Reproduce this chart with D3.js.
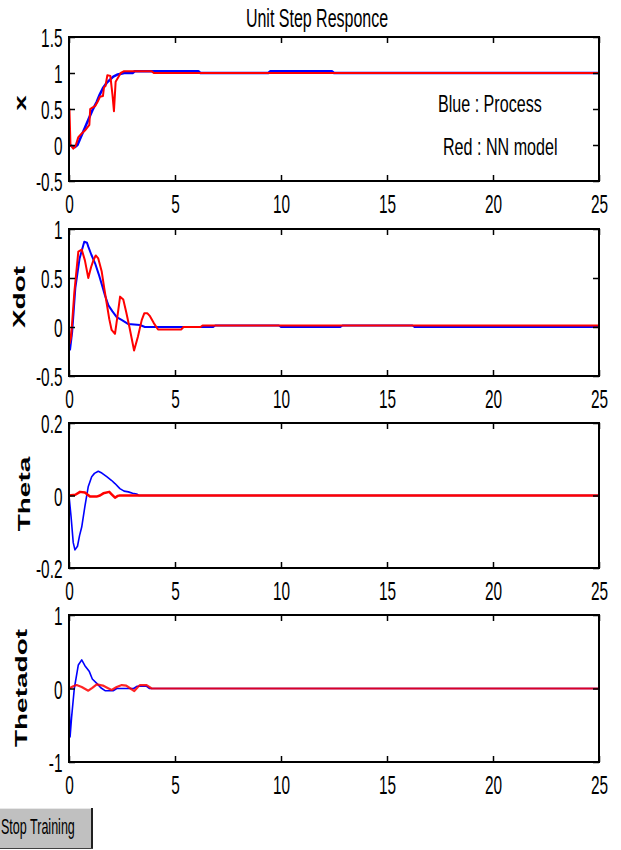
<!DOCTYPE html>
<html>
<head>
<meta charset="utf-8">
<script src="https://cdn.jsdelivr.net/npm/d3@7"></script>
<style>
  html, body { margin: 0; padding: 0; background: #fff; }
  svg { display: block; font-family: "Liberation Sans", Arial, sans-serif; }
</style>
</head>
<body>
<svg id="chart" width="621" height="850"></svg>
<script>
// ---- data: [time, value] samples of the unit step response ----
const xTicks = [0, 5, 10, 15, 20, 25];

const yTicksX = [-0.5, 0, 0.5, 1, 1.5];
const yTicksXdot = [-0.5, 0, 0.5, 1];
const yTicksTheta = [-0.2, 0, 0.2];
const yTicksThetadot = [-1, 0, 1];

const xProcess = [[0,0],[0.1,-0.01],[0.28,-0.03],[0.4,0.0],[0.6,0.14],[0.75,0.24],[0.91,0.35],[1.1,0.48],[1.31,0.6],[1.45,0.7],[1.62,0.8],[1.8,0.87],[2.09,0.95],[2.3,0.98],[2.6,1.0],[3.0,1.0],[3.1,1.025],[6.1,1.025],[6.2,1.0],[9.4,1.0],[9.5,1.025],[12.4,1.025],[12.5,1.0],[25,1.0]];
const xModel = [[0,0],[0.02,0.5],[0.07,0.0],[0.2,-0.05],[0.3,-0.02],[0.44,0.11],[0.6,0.16],[0.75,0.2],[0.96,0.28],[1.0,0.5],[1.1,0.52],[1.23,0.54],[1.35,0.6],[1.46,0.67],[1.6,0.68],[1.65,0.8],[1.72,0.82],[1.81,0.97],[1.95,0.96],[2.05,0.7],[2.12,0.47],[2.2,0.88],[2.44,1.0],[2.6,1.025],[3.9,1.025],[4.0,1.0],[25,1.0]];

const xdotProcess = [[0,0],[0.05,-0.23],[0.15,-0.05],[0.3,0.4],[0.5,0.7],[0.72,0.87],[0.85,0.86],[0.91,0.82],[1.05,0.74],[1.23,0.65],[1.4,0.54],[1.54,0.44],[1.7,0.32],[1.86,0.22],[2.05,0.16],[2.25,0.1],[2.5,0.07],[2.8,0.03],[3.35,0.02],[3.58,0.0],[6.8,0.0],[6.9,0.015],[9.9,0.015],[10.0,0.0],[12.8,0.0],[12.9,0.015],[16.2,0.015],[16.3,0.0],[25,0.0]];
const xdotModel = [[0,0],[0.03,-0.17],[0.1,-0.1],[0.25,0.35],[0.44,0.77],[0.6,0.79],[0.75,0.68],[0.91,0.5],[1.04,0.61],[1.15,0.68],[1.26,0.73],[1.38,0.7],[1.54,0.57],[1.66,0.4],[1.78,0.24],[1.9,0.08],[2.01,-0.03],[2.17,-0.07],[2.28,0.1],[2.41,0.31],[2.56,0.28],[2.7,0.15],[2.85,0.0],[3.07,-0.24],[3.25,-0.1],[3.43,0.07],[3.55,0.14],[3.7,0.14],[3.82,0.11],[4.0,0.04],[4.2,-0.025],[5.3,-0.025],[5.4,0.0],[6.2,0.0],[6.3,0.015],[25,0.015]];

const thetaProcess = [[0,0],[0.1,-0.06],[0.2,-0.13],[0.28,-0.15],[0.4,-0.14],[0.5,-0.11],[0.6,-0.087],[0.75,-0.03],[0.91,0.025],[1.07,0.052],[1.2,0.061],[1.38,0.067],[1.55,0.062],[1.78,0.052],[2.0,0.042],[2.17,0.033],[2.4,0.019],[2.6,0.012],[2.8,0.01],[3.0,0.006],[3.19,0.004],[3.3,0.0],[25,0]];
const thetaModel = [[0,0],[0.3,0.002],[0.52,0.01],[0.75,0.008],[0.99,-0.003],[1.3,-0.003],[1.46,0.0],[1.62,0.006],[1.9,0.01],[2.0,0.004],[2.17,-0.006],[2.3,-0.001],[2.4,0.0],[25,0]];

const thetadotProcess = [[0,0],[0.05,-0.66],[0.12,-0.4],[0.25,0.0],[0.44,0.32],[0.6,0.39],[0.75,0.31],[0.96,0.23],[1.1,0.13],[1.31,0.07],[1.5,0.01],[1.7,-0.03],[2.1,-0.03],[2.25,0.0],[3.05,0.0],[3.2,0.03],[3.66,0.03],[3.8,0.0],[25,0]];
const thetadotModel = [[0,0],[0.2,0.03],[0.36,0.047],[0.6,0.02],[0.91,-0.03],[1.1,0.01],[1.31,0.057],[1.6,0.04],[1.8,0.01],[2.01,-0.02],[2.25,0.02],[2.49,0.047],[2.7,0.04],[2.9,0.0],[3.08,-0.035],[3.25,0.02],[3.35,0.047],[3.66,0.047],[3.9,0.0],[25,0]];

const titleText = "Unit Step Responce";
const legendLines = ["Blue : Process", "Red : NN model"];
const buttonText = "Stop Training";

// ---- layout ----
const svg = d3.select("#chart");
const SX = 0.615;           // horizontal squeeze of all lettering
const left = 69, right = 599;
const x = d3.scaleLinear().domain([0, 25]).range([left, right]);

const panels = [
  { label: "x",        ticks: yTicksX,        top: 37,  bottom: 181, lab: [22, 103], blue: xProcess,        red: xModel,        bw: 2.5, rw: 2,   ro: 1 },
  { label: "Xdot",     ticks: yTicksXdot,     top: 229, bottom: 376, lab: [19, 297], blue: xdotProcess,     red: xdotModel,     bw: 2,   rw: 2,   ro: 1 },
  { label: "Theta",    ticks: yTicksTheta,    top: 423, bottom: 568, lab: [24, 494], blue: thetaProcess,    red: thetaModel,    bw: 1.6, rw: 2.5, ro: 1 },
  { label: "Thetadot", ticks: yTicksThetadot, top: 615, bottom: 762, lab: [21, 688], blue: thetadotProcess, red: thetadotModel, bw: 1.6, rw: 2.2, ro: 0.85 }
];

panels.forEach(p => {
  const y = d3.scaleLinear()
    .domain([d3.min(p.ticks), d3.max(p.ticks)])
    .range([p.bottom, p.top]);
  const g = svg.append("g");

  // series
  const line = d3.line().x(d => x(d[0])).y(d => y(d[1]));
  g.append("path").datum(p.blue)
    .attr("d", line).attr("fill", "none")
    .attr("stroke", "#0000ff").attr("stroke-width", p.bw)
    .attr("stroke-linejoin", "round");
  g.append("path").datum(p.red)
    .attr("d", line).attr("fill", "none")
    .attr("stroke", "#ff0000").attr("stroke-width", p.rw)
    .attr("stroke-opacity", p.ro)
    .attr("stroke-linejoin", "round");

  // inward ticks on all four sides
  const bottomAx = g.append("g").attr("transform", `translate(0,${p.bottom})`)
    .call(d3.axisBottom(x).tickValues(xTicks).tickSizeInner(-6).tickSizeOuter(0).tickFormat(d => String(d)));
  const topAx = g.append("g").attr("transform", `translate(0,${p.top})`)
    .call(d3.axisTop(x).tickValues(xTicks).tickSizeInner(-6).tickSizeOuter(0).tickFormat(""));
  const leftAx = g.append("g").attr("transform", `translate(${left},0)`)
    .call(d3.axisLeft(y).tickValues(p.ticks).tickSizeInner(-6).tickSizeOuter(0).tickFormat(d => String(d)));
  const rightAx = g.append("g").attr("transform", `translate(${right},0)`)
    .call(d3.axisRight(y).tickValues(p.ticks).tickSizeInner(-6).tickSizeOuter(0).tickFormat(""));

  [bottomAx, topAx, leftAx, rightAx].forEach(a => {
    a.select(".domain").remove();
    a.selectAll(".tick line").attr("stroke", "#000").attr("stroke-width", 1.5);
  });

  bottomAx.selectAll(".tick text")
    .attr("dy", null).attr("y", 0)
    .attr("transform", `translate(0,32) scale(${SX},1)`)
    .attr("font-size", 25).attr("fill", "#000")
    .attr("font-family", "Liberation Sans, Arial, sans-serif");
  leftAx.selectAll(".tick text")
    .attr("dy", null).attr("x", 0)
    .attr("transform", `translate(-6.5,9.5) scale(${SX},1)`)
    .attr("font-size", 25).attr("fill", "#000")
    .attr("font-family", "Liberation Sans, Arial, sans-serif");

  // axes box
  g.append("rect")
    .attr("x", left).attr("y", p.top)
    .attr("width", right - left).attr("height", p.bottom - p.top)
    .attr("fill", "none").attr("stroke", "#000").attr("stroke-width", 2);

  // y label
  const capOff = (p.label === "x" ? 0.519 : 0.716) * 28 * SX / 2;
  svg.append("text")
    .attr("transform", `translate(${p.lab[0] + capOff},${p.lab[1]}) scale(${SX},1) rotate(-90)`)
    .attr("text-anchor", "middle")
    .attr("font-size", 28).attr("font-weight", "bold")
    .text(p.label);
});

// title
svg.append("text")
  .attr("transform", `translate(317,26.5) scale(${SX},1)`)
  .attr("text-anchor", "middle").attr("font-size", 26)
  .text(titleText);

// legend notes inside the first panel
svg.selectAll("text.note").data(legendLines).enter().append("text")
  .attr("class", "note")
  .attr("transform", (d, i) => `translate(${[438, 443][i]},${[111.5, 155][i]}) scale(0.7,1)`)
  .attr("font-size", 23)
  .text(d => d);

// button
const btn = svg.append("g");
btn.append("rect").attr("x", -2).attr("y", 808).attr("width", 94).attr("height", 41)
  .attr("fill", "#c0c0c0");
btn.append("line").attr("x1", 0).attr("x2", 92).attr("y1", 808.5).attr("y2", 808.5)
  .attr("stroke", "#e8e8e8").attr("stroke-width", 1);
btn.append("line").attr("x1", 92).attr("x2", 92).attr("y1", 808).attr("y2", 849)
  .attr("stroke", "#202020").attr("stroke-width", 2);
btn.append("line").attr("x1", 0).attr("x2", 93).attr("y1", 848.5).attr("y2", 848.5)
  .attr("stroke", "#404040").attr("stroke-width", 1);
btn.append("text")
  .attr("transform", `translate(1,834) scale(0.57,1)`)
  .attr("font-size", 22)
  .text(buttonText);
</script>
</body>
</html>
